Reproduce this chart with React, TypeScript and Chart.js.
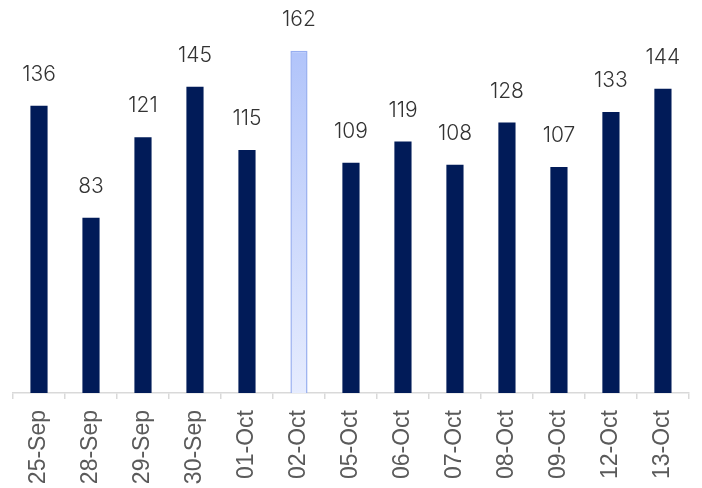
import React, { useEffect, useRef } from "react";
import { Chart, registerables } from "chart.js";

Chart.register(...registerables);

const categories = ["25-Sep", "28-Sep", "29-Sep", "30-Sep", "01-Oct", "02-Oct", "05-Oct", "06-Oct", "07-Oct", "08-Oct", "09-Oct", "12-Oct", "13-Oct"];
const values = [136, 83, 121, 145, 115, 162, 109, 119, 108, 128, 107, 133, 144];
const highlightIndex = 5;

const DARK = "#011b58";

const valueLabels = {
  id: "valueLabels",
  afterDatasetsDraw(chart: any) {
    const { ctx } = chart;
    const meta = chart.getDatasetMeta(0);
    ctx.save();
    ctx.font = "300 21px Inter";
    ctx.fillStyle = "#333333";
    ctx.textAlign = "center";
    ctx.textBaseline = "alphabetic";
    meta.data.forEach((bar: any, i: number) => {
      ctx.fillText(String(values[i]), bar.x, bar.y - 25);
    });
    ctx.restore();
  },
};

export default function App() {
  const ref = useRef<HTMLCanvasElement | null>(null);
  useEffect(() => {
    if (!ref.current) return;
    const chart = new Chart(ref.current, {
      type: "bar",
      data: {
        labels: categories,
        datasets: [
          {
            data: values,
            backgroundColor: (c: any) => {
              if (c.dataIndex !== highlightIndex) return DARK;
              const area = c.chart.chartArea;
              if (!area) return "#c8d5fb";
              const g = c.chart.ctx.createLinearGradient(0, area.top + 50, 0, area.bottom);
              g.addColorStop(0, "#b1c4fa");
              g.addColorStop(1, "#e6ecfe");
              return g;
            },
            borderColor: (c: any) => (c.dataIndex === highlightIndex ? "#97aef0" : DARK),
            borderWidth: (c: any) => (c.dataIndex === highlightIndex ? 1.5 : 0),
            barPercentage: 0.33,
            categoryPercentage: 1,
          },
        ],
      },
      options: {
        responsive: true,
        maintainAspectRatio: false,
        animation: false,
        layout: { padding: { left: 13, right: 12, top: 0, bottom: 0 } },
        plugins: { legend: { display: false }, tooltip: { enabled: false } },
        scales: {
          y: { display: false, min: 0, max: 186 },
          x: {
            afterFit: (axis: any) => {
              axis.height = 95;
            },
            border: { display: true, color: "#d9d9d9", width: 1.5 },
            grid: {
              offset: true,
              drawOnChartArea: false,
              drawTicks: true,
              tickLength: 6,
              color: "#d9d9d9",
              lineWidth: 1.5,
            },
            ticks: {
              minRotation: 90,
              maxRotation: 90,
              padding: 11,
              color: "#5a5a5a",
              font: { family: "'Liberation Sans', Arial, sans-serif", size: 23 },
            },
          },
        },
      },
      plugins: [valueLabels],
    });
    return () => chart.destroy();
  }, []);
  return (
    <div style={{ position: "fixed", left: 0, top: 0, width: 702, height: 488, background: "#fff" }}>
      <canvas ref={ref} />
    </div>
  );
}
